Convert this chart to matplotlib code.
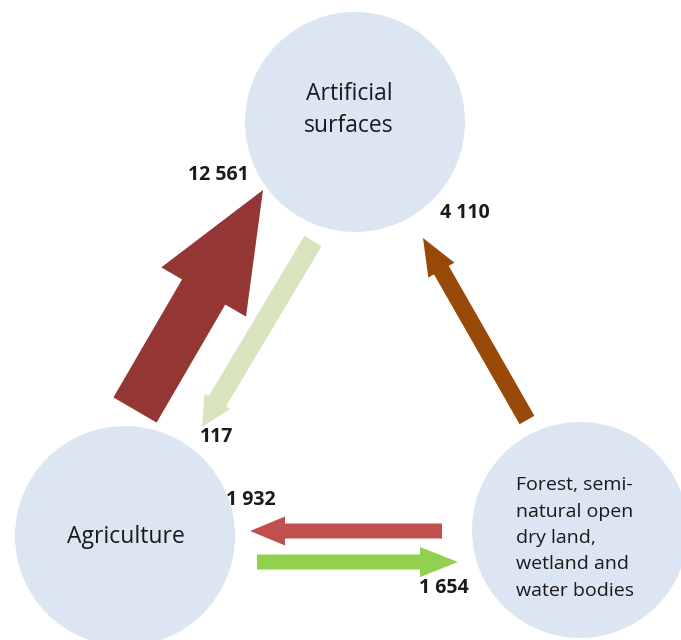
import matplotlib
matplotlib.use("Agg")
import matplotlib.pyplot as plt
from matplotlib.patches import Circle, FancyArrow

# ---- data ----
nodes = ["Artificial\nsurfaces", "Agriculture",
         "Forest, semi-\nnatural open\ndry land,\nwetland and\nwater bodies"]
flow_src = [1, 0, 2, 2, 1]
flow_dst = [0, 1, 0, 1, 2]
flow_values = [12561, 117, 4110, 1932, 1654]
flow_labels = ["12 561", "117", "4 110", "1 932", "1 654"]

# ---- layout (pixel space) ----
W, H = 681, 640
node_xy = [(355, 122), (125, 536), (580, 530)]
node_r = [110, 110, 108]
# arrow tail, tip, shaft width, head width, head length, colour
arrow_geo = [
    ((135, 410), (263, 190), 50, 98, 118, "#943634"),
    ((313, 241), (202, 427), 20, 30, 30, "#d7e4bd"),
    ((527, 420), (423, 238), 17, 30, 37, "#984807"),
    ((442, 531), (250, 531), 15, 29, 35, "#c0504d"),
    ((257, 562), (458, 562), 15, 30, 38, "#92d050"),
]
label_xy = [(218, 175), (217, 437), (465, 213), (251, 500), (444, 588)]

fig = plt.figure(figsize=(W / 100, H / 100), dpi=100)
ax = fig.add_axes([0, 0, 1, 1])
ax.set_xlim(0, W)
ax.set_ylim(H, 0)
ax.set_aspect("equal")
ax.axis("off")

font = ["Open Sans", "DejaVu Sans"]

for i, name in enumerate(nodes):
    x, y = node_xy[i]
    ax.add_patch(Circle((x, y), node_r[i], facecolor="#dce6f2", edgecolor="none", zorder=1))

ax.text(349, 110, nodes[0], ha="center", va="center", fontsize=16.5,
        family=font, color="#1a1a1a", linespacing=1.45, zorder=3)
ax.text(126, 537, nodes[1], ha="center", va="center", fontsize=16.5,
        family=font, color="#1a1a1a", zorder=3)
ax.text(516, 538, nodes[2], ha="left", va="center", fontsize=14,
        family=font, color="#1a1a1a", linespacing=1.6, zorder=3)

for k in range(len(flow_values)):
    (x0, y0), (x1, y1), w, hw, hl, c = arrow_geo[k]
    ax.add_patch(FancyArrow(x0, y0, x1 - x0, y1 - y0, width=w, head_width=hw,
                            head_length=hl, length_includes_head=True,
                            facecolor=c, edgecolor="none", zorder=2))
    lx, ly = label_xy[k]
    ax.text(lx, ly, flow_labels[k], ha="center", va="center", fontsize=14,
            fontweight="bold", family=font, color="#1a1a1a", zorder=3)

fig.savefig("out.png", dpi=100, facecolor="white")
